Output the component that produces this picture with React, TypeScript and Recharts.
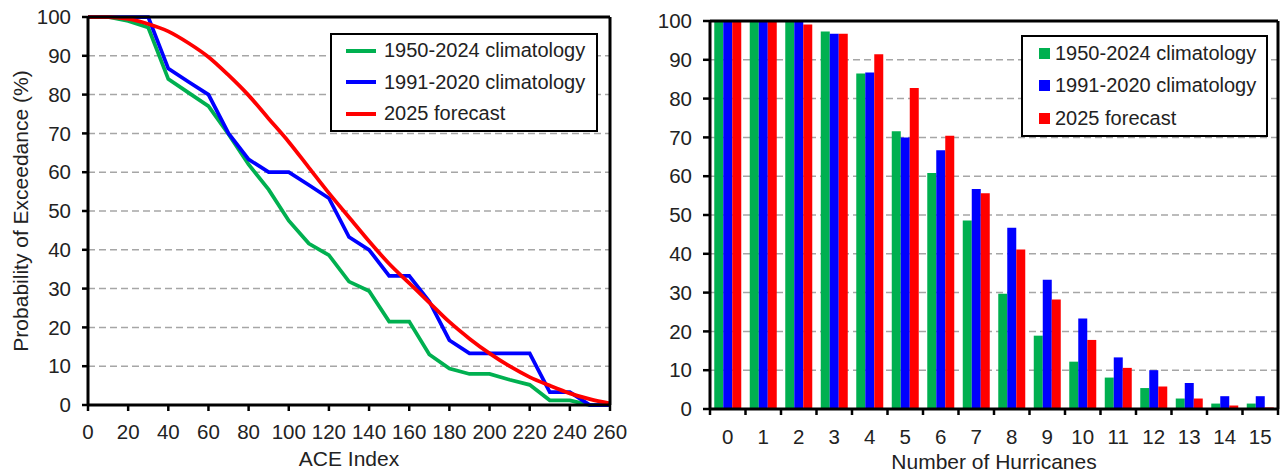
import React from "react";
import {
  LineChart,
  Line,
  BarChart,
  Bar,
  XAxis,
  YAxis,
  CartesianGrid,
  Legend,
  Label,
} from "recharts";

// ACE index exceedance curves (left panel)
const aceIndex = [0, 10, 20, 30, 40, 50, 60, 70, 80, 90, 100, 110, 120, 130, 140, 150, 160, 170, 180, 190, 200, 210, 220, 230, 240, 250, 260];
const ace1950 = [100, 100, 99, 97.3, 84, 80.5, 77, 69.8, 62, 55.5, 47.5, 41.6, 38.6, 31.8, 29.4, 21.5, 21.5, 13, 9.4, 8, 8, 6.5, 5.2, 1.2, 1.2, 0, 0];
const ace1991 = [100, 100, 100, 100, 86.7, 83.3, 80, 70, 63.3, 60, 60, 56.7, 53.3, 43.3, 40, 33.3, 33.3, 26.7, 16.7, 13.3, 13.3, 13.3, 13.3, 3.3, 3.3, 0, 0];
const ace2025 = [100, 100, 99.5, 98.2, 96.3, 93.3, 89.7, 85, 79.8, 73.8, 67.8, 61.2, 54.6, 48.4, 42.2, 36.4, 31.4, 26.4, 21.4, 17.1, 13.3, 10, 7.2, 5, 3, 1.5, 0.4];

// number of hurricanes exceedance (right panel)
const hurricaneCounts = ["0", "1", "2", "3", "4", "5", "6", "7", "8", "9", "10", "11", "12", "13", "14", "15"];
const hur1950 = [100, 100, 100, 97.3, 86.5, 71.6, 60.8, 48.6, 29.7, 18.9, 12.2, 8.1, 5.4, 2.7, 1.4, 1.4];
const hur1991 = [100, 100, 100, 96.7, 86.7, 70, 66.7, 56.7, 46.7, 33.3, 23.3, 13.3, 10, 6.7, 3.3, 3.3];
const hur2025 = [100, 99.8, 99.1, 96.7, 91.4, 82.7, 70.4, 55.6, 41.1, 28.2, 17.8, 10.6, 5.8, 2.7, 0.9, 0.4];

const seriesNames = ["1950-2024 climatology", "1991-2020 climatology", "2025 forecast"];
const seriesColors = ["#00b050", "#0000ff", "#ff0000"];
const percentTicks = [0, 10, 20, 30, 40, 50, 60, 70, 80, 90, 100];
const aceTicks = [0, 20, 40, 60, 80, 100, 120, 140, 160, 180, 200, 220, 240, 260];

const aceData = aceIndex.map((x, i) => ({
  x,
  a: ace1950[i],
  b: ace1991[i],
  c: ace2025[i],
}));

const hurData = hurricaneCounts.map((n, i) => ({
  n,
  a: hur1950[i],
  b: hur1991[i],
  c: hur2025[i],
}));

const FONT = "'Liberation Sans', Arial, sans-serif";
const TEXT = "#222";
const tickStyle = { fill: TEXT, fontSize: 20.5, fontFamily: FONT };
const frame = { stroke: "#000", strokeWidth: 3 };

const LineLegend = () => (
  <div
    style={{
      border: "2px solid #000",
      background: "#fff",
      fontFamily: FONT,
      fontSize: 20,
      color: TEXT,
    }}
  >
    {seriesNames.map((name, i) => (
      <div key={name} style={{ height: 31.5, display: "flex", alignItems: "center" }}>
        <span
          style={{
            display: "inline-block",
            width: 30,
            height: 4,
            background: seriesColors[i],
            marginLeft: 14,
            marginRight: 8,
          }}
        />
        {name}
      </div>
    ))}
  </div>
);

const BarLegend = () => (
  <div
    style={{
      border: "2px solid #000",
      background: "#fff",
      fontFamily: FONT,
      fontSize: 20,
      color: TEXT,
    }}
  >
    {seriesNames.map((name, i) => (
      <div key={name} style={{ height: 32.5, display: "flex", alignItems: "center" }}>
        <span
          style={{
            display: "inline-block",
            width: 11,
            height: 11,
            background: seriesColors[i],
            marginLeft: 16,
            marginRight: 5,
          }}
        />
        {name}
      </div>
    ))}
  </div>
);

const YTitle = (props: any) => {
  const vb = props.viewBox;
  const cx = vb.x + 20;
  const cy = vb.y + vb.height / 2;
  return (
    <text
      x={cx}
      y={cy}
      transform={`rotate(-90 ${cx} ${cy})`}
      textAnchor="middle"
      dominantBaseline="central"
      fontSize={21}
      fontFamily={FONT}
      fill={TEXT}
    >
      Probability of Exceedance (%)
    </text>
  );
};

// Excel-style ticks: marks between categories, label in the middle
const HurricaneTick = (props: any) => {
  const { x, y, payload, index } = props;
  const half = payload.offset ?? 0;
  const axisY = y - 20;
  const last = index === hurricaneCounts.length - 1;
  return (
    <g>
      <line x1={x - half} x2={x - half} y1={axisY} y2={axisY + 6} stroke="#000" strokeWidth={2.5} />
      {last && (
        <line x1={x + half} x2={x + half} y1={axisY} y2={axisY + 6} stroke="#000" strokeWidth={2.5} />
      )}
      <text x={x} y={y} dy="0.71em" textAnchor="middle" fontSize={20.5} fontFamily={FONT} fill={TEXT}>
        {payload.value}
      </text>
    </g>
  );
};

export default function App() {
  return (
    <div style={{ position: "absolute", left: 0, top: 0, width: 1282, height: 473, background: "#fff", fontFamily: FONT }}>
      <div style={{ position: "absolute", left: 0, top: 0 }}>
        <LineChart width={640} height={473} data={aceData} margin={{ top: 16, right: 29, bottom: 0, left: 0 }}>
          <CartesianGrid vertical={false} stroke="#a6a6a6" strokeWidth={1.5} strokeDasharray="7 4" />
          <XAxis
            dataKey="x"
            type="number"
            domain={[0, 260]}
            ticks={aceTicks}
            interval={0}
            height={68}
            tick={tickStyle}
            tickSize={6}
            tickMargin={13}
            axisLine={frame}
            tickLine={{ stroke: "#000", strokeWidth: 2.5 }}
          >
            <Label value="ACE Index" position="insideBottom" offset={7} fontSize={21} fill={TEXT} />
          </XAxis>
          <XAxis
            xAxisId="top"
            orientation="top"
            dataKey="x"
            type="number"
            domain={[0, 260]}
            height={1}
            tick={false}
            tickLine={false}
            axisLine={frame}
          />
          <YAxis
            domain={[0, 100]}
            ticks={percentTicks}
            interval={0}
            width={88}
            tick={tickStyle}
            tickSize={6}
            tickMargin={11}
            axisLine={frame}
            tickLine={{ stroke: "#000", strokeWidth: 2.5 }}
          >
            <Label content={YTitle} />
          </YAxis>
          <YAxis
            yAxisId="right"
            orientation="right"
            domain={[0, 100]}
            width={1}
            tick={false}
            tickLine={false}
            axisLine={frame}
          />
          <Line dataKey="a" name={seriesNames[0]} stroke={seriesColors[0]} strokeWidth={3.75} dot={false} activeDot={false} type="linear" isAnimationActive={false} />
          <Line dataKey="b" name={seriesNames[1]} stroke={seriesColors[1]} strokeWidth={3.75} dot={false} activeDot={false} type="linear" isAnimationActive={false} />
          <Line dataKey="c" name={seriesNames[2]} stroke={seriesColors[2]} strokeWidth={3.75} dot={false} activeDot={false} type="monotone" isAnimationActive={false} />
          <Legend
            layout="vertical"
            align="center"
            verticalAlign="middle"
            content={LineLegend}
            wrapperStyle={{ left: 330, top: 33, width: 268 }}
          />
        </LineChart>
      </div>
      <div style={{ position: "absolute", left: 620, top: 0 }}>
        <BarChart
          width={662}
          height={473}
          data={hurData}
          margin={{ top: 20, right: 3, bottom: 0, left: 0 }}
          barCategoryGap="12%"
          barGap={0}
        >
          <CartesianGrid vertical={false} stroke="#a6a6a6" strokeWidth={1.5} strokeDasharray="7 4" />
          <XAxis
            dataKey="n"
            height={64}
            interval={0}
            tick={<HurricaneTick />}
            tickSize={6}
            tickMargin={14}
            tickLine={false}
            axisLine={frame}
          >
            <Label value="Number of Hurricanes" position="insideBottom" offset={4} fontSize={21} fill={TEXT} />
          </XAxis>
          <XAxis xAxisId="top" orientation="top" dataKey="n" height={1} tick={false} tickLine={false} axisLine={frame} />
          <YAxis
            domain={[0, 100]}
            ticks={percentTicks}
            interval={0}
            width={90}
            tick={tickStyle}
            tickSize={7}
            tickMargin={11}
            axisLine={frame}
            tickLine={{ stroke: "#000", strokeWidth: 2.5 }}
          />
          <YAxis
            yAxisId="right"
            orientation="right"
            domain={[0, 100]}
            width={1}
            tick={false}
            tickLine={false}
            axisLine={frame}
          />
          <Bar dataKey="a" name={seriesNames[0]} fill={seriesColors[0]} isAnimationActive={false} />
          <Bar dataKey="b" name={seriesNames[1]} fill={seriesColors[1]} isAnimationActive={false} />
          <Bar dataKey="c" name={seriesNames[2]} fill={seriesColors[2]} isAnimationActive={false} />
          <Legend
            layout="vertical"
            align="center"
            verticalAlign="middle"
            content={BarLegend}
            wrapperStyle={{ left: 401, top: 35, width: 247 }}
          />
        </BarChart>
      </div>
    </div>
  );
}
